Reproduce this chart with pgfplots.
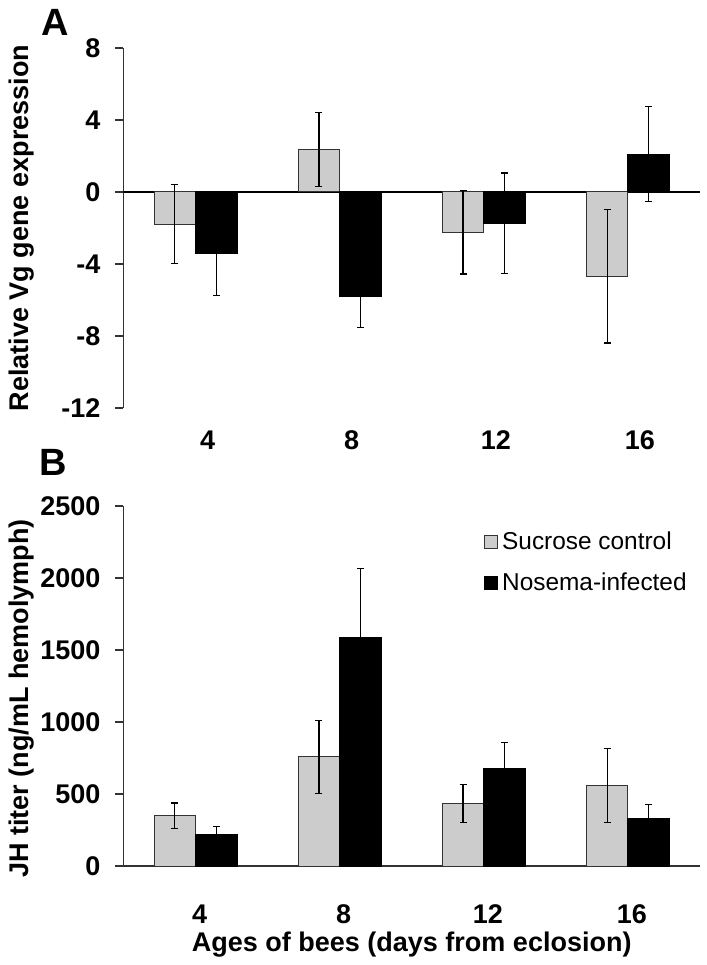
\documentclass[border=0pt]{standalone}
\usepackage{fontspec}
\setmainfont{Liberation Sans}
\usepackage{pgfplots}
\usepackage{pgfplotstable}
\pgfplotsset{compat=1.18}
\definecolor{barfill}{HTML}{CCCCCC}
\definecolor{axisgray}{HTML}{333333}

% panel A: relative Vg expression
\pgfplotstableread{
x    g      gerr  b      berr
0.5  -1.78  2.18  -3.44  2.32
1.5  2.37   2.05  -5.82  1.72
2.5  -2.24  2.32  -1.74  2.80
3.5  -4.69  3.70  2.11   2.63
}\vgdata

% panel B: JH titer
\pgfplotstableread{
x    g    gerr  b     berr
0.5  349  88    222   51
1.5  757  252   1585  482
2.5  435  133   678   181
3.5  558  258   329   99
}\jhdata

\begin{document}
\begin{tikzpicture}
\path[use as bounding box] (0,0) rectangle (353.5pt,482.5pt);
\pgfplotsset{
  panel/.style={
    scale only axis, width=288.25pt, height=180pt,
    xmin=0, xmax=4, xtick={0.5,1.5,2.5,3.5}, xticklabels={4,8,12,16},
    axis y line=left,
    axis line style={-, axisgray, line width=0.8pt},
    tick align=outside, major tick length=4pt,
    ytick style={axisgray, line width=0.8pt},
    xtick style={draw=none},
    tick label style={font=\fontsize{13.5}{16}\selectfont\bfseries},
    yticklabel style={xshift=-4pt},
    /pgf/number format/assume math mode=true,
    /pgf/number format/1000 sep={},
    label style={font=\fontsize{13.5}{16}\selectfont\bfseries},
    ybar, bar width=20.75pt,
  },
  greybar/.style={fill=barfill, draw=axisgray, line width=0.5pt, bar shift=-10.375pt},
  blackbar/.style={fill=black, draw=black, line width=0.5pt, bar shift=10.375pt},
}

% ---- A ----
\begin{axis}[panel, at={(61.75pt,278.5pt)}, anchor=south west,
  ymin=-12, ymax=8, ytick={-12,-8,-4,0,4,8},
  axis x line=bottom, x axis line style={draw=none},
  xticklabel style={xshift=6pt, yshift=-6pt},
  ylabel={Relative Vg gene expression},
  ylabel style={at={(axis description cs:-0.176,0.5)}, anchor=center},
]
\addplot[sharp plot, black, line width=0.8pt, forget plot] coordinates {(0,0) (4,0)};
\addplot[greybar, error bars/.cd, y dir=both, y explicit,
  error bar style={black, line width=0.6pt},
  error mark options={rotate=90, mark size=1.75pt, line width=0.6pt, black}]
  table[x=x, y=g, y error=gerr] {\vgdata};
\addplot[blackbar, error bars/.cd, y dir=both, y explicit,
  error bar style={black, line width=0.6pt},
  error mark options={rotate=90, mark size=1.75pt, line width=0.6pt, black}]
  table[x=x, y=b, y error=berr] {\vgdata};
\end{axis}

% ---- B ----
\begin{axis}[panel, at={(61.75pt,49.5pt)}, anchor=south west,
  ymin=0, ymax=2500, ytick={0,500,...,2500},
  axis x line=bottom, x axis line style={-},
  xticklabel style={xshift=2pt, yshift=-14pt},
  ylabel={JH titer (ng/mL hemolymph)},
  ylabel style={at={(axis description cs:-0.176,0.465)}, anchor=center},
  xlabel={Ages of bees (days from eclosion)},
  xlabel style={at={(axis description cs:0.5,0)}, anchor=center, yshift=-39.5pt},
  legend image code/.code={\draw[#1] (0pt,-3.25pt) rectangle (6.5pt,3.25pt);},
  legend style={at={(axis description cs:0.625,0.94)}, anchor=north west,
    draw=none, fill=none, inner sep=0pt, row sep=6pt,
    font=\fontsize{12.2}{14}\selectfont},
  legend cell align=left,
]
\addplot[greybar, error bars/.cd, y dir=both, y explicit,
  error bar style={black, line width=0.6pt},
  error mark options={rotate=90, mark size=1.75pt, line width=0.6pt, black}]
  table[x=x, y=g, y error=gerr] {\jhdata};
\addlegendentry{Sucrose control}
\addplot[blackbar, error bars/.cd, y dir=both, y explicit,
  error bar style={black, line width=0.6pt},
  error mark options={rotate=90, mark size=1.75pt, line width=0.6pt, black}]
  table[x=x, y=b, y error=berr] {\jhdata};
\addlegendentry{Nosema-infected}
\end{axis}

\node[font=\fontsize{19}{22}\selectfont\bfseries] at (27.5pt,471.5pt) {A};
\node[font=\fontsize{19}{22}\selectfont\bfseries] at (26.5pt,251.5pt) {B};
\end{tikzpicture}
\end{document}
